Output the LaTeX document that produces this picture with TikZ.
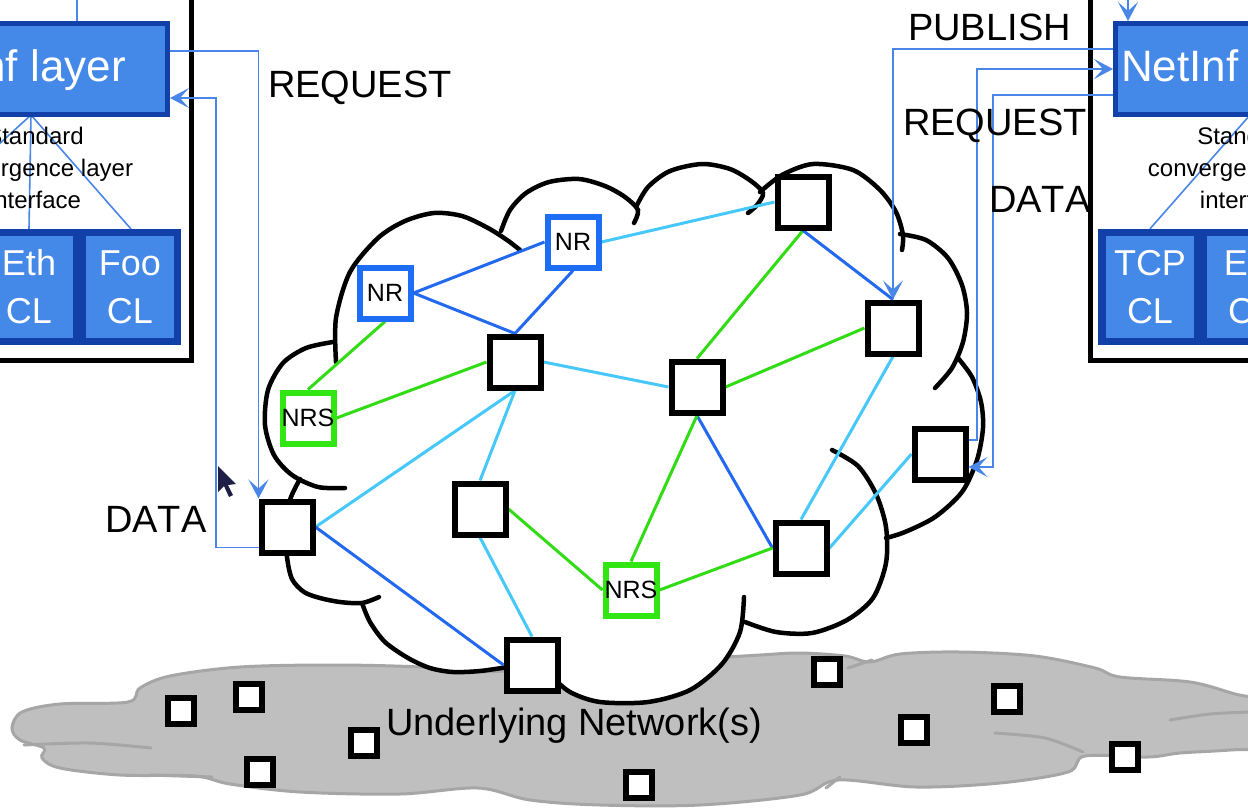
\documentclass[tikz,border=0pt]{standalone}
\usepackage{fontspec}
\setmainfont{Liberation Sans}[Kerning=Off]
\usetikzlibrary{arrows.meta,calc}
\definecolor{arrowblue}{RGB}{74,134,232}
\definecolor{edgeblue}{RGB}{35,105,240}
\definecolor{edgecyan}{RGB}{70,200,250}
\definecolor{edgegreen}{RGB}{50,220,20}
\definecolor{nrblue}{RGB}{30,110,245}
\definecolor{nrsgreen}{RGB}{50,230,20}
\definecolor{paneldark}{RGB}{16,64,168}
\definecolor{panellight}{RGB}{68,136,232}
\definecolor{cloudgray}{RGB}{191,191,191}
\definecolor{cloudedge}{RGB}{166,166,166}
\definecolor{cursorcol}{RGB}{30,30,70}
\pgfdeclarelayer{back}
\pgfdeclarelayer{edges}
\pgfsetlayers{back,edges,main}
\tikzset{
  netbox/.style={draw=black, line width=6pt, fill=white, minimum size=51pt, inner sep=0pt, font=\fontsize{25}{30}\selectfont},
  nrbox/.style={netbox, draw=nrblue},
  nrsbox/.style={netbox, draw=nrsgreen},
  tinybox/.style={draw=black, line width=5.5pt, fill=white, minimum size=26pt, inner sep=0pt},
  eblue/.style={draw=edgeblue, line width=3pt},
  ecyan/.style={draw=edgecyan, line width=3pt},
  egreen/.style={draw=edgegreen, line width=3pt},
  arr/.style={draw=arrowblue, line width=1.6pt, -{Stealth[length=19pt,width=20pt,inset=9pt]}},
  pline/.style={draw=arrowblue, line width=1.6pt},
  cloudline/.style={draw=black, line width=4.5pt, line cap=round},
  grayline/.style={draw=cloudedge, line width=3pt, line cap=round},
  nibox/.style={draw=paneldark, fill=panellight, line width=5pt, inner sep=0pt},
  clbar/.style={fill=paneldark, inner sep=0pt},
  clbox/.style={fill=panellight, minimum width=88pt, minimum height=102pt, inner sep=0pt, text=white, align=center, font=\fontsize{36}{48}\selectfont},
  nitext/.style={text=white, inner sep=0pt, font=\fontsize{44}{52}\selectfont},
  conv/.style={align=center, inner sep=0pt, font=\fontsize{24}{32}\selectfont},
  lbl/.style={inner sep=0pt, font=\fontsize{38}{44}\selectfont},
  panel/.style={draw=black, line width=5pt},
}
\begin{document}
\begin{tikzpicture}[x=1pt,y=-1pt]
\useasboundingbox (0,0) rectangle (1248,807);

% ---------- back layer: clouds ----------
\begin{pgfonlayer}{back}
\fill[white] (0,0) rectangle (1248,807);
\path[fill=cloudgray, draw=cloudedge, line width=3pt] plot[smooth cycle, tension=0.55] coordinates {
(12,728) (22,712) (60,704) (128,702) (140,688) (170,676) (240,667) (334,665) (420,667) (470,672)
(560,668) (680,660) (760,655) (800,653) (845,656) (870,662) (900,654) (960,652) (1035,656) (1095,668)
(1120,677) (1190,682) (1235,694) (1275,705) (1275,745) (1230,750) (1180,753) (1148,757)
(1085,756) (1068,772) (1000,783) (916,787) (838,780) (800,795) (700,805) (600,805) (530,800) (478,788)
(400,794) (300,792) (230,784) (195,776) (120,775) (60,768) (42,758) (44,748) (20,740)};
\draw[grayline] plot[smooth] coordinates {(24,745) (90,743) (151,748)};
\draw[grayline] plot[smooth] coordinates {(150,775) (180,776) (212,777)};
\draw[grayline] (848,668) -- (872,660);
\draw[grayline] (840,777) -- (826,788);
\draw[grayline] plot[smooth] coordinates {(995,733) (1045,738) (1083,752)};
\draw[grayline] plot[smooth] coordinates {(1170,720) (1210,714) (1250,712)};
% white interior of the NetInf cloud
\fill[white] plot[smooth cycle, tension=0.5] coordinates {
(362,603) (340,602) (320,598) (304,592) (292,579) (287,557) (286,530) (290,500) (300,479)
(274,455) (265,425) (268,390) (283,363) (306,348) (333,342)
(338,300) (353,265) (378,238) (405,221) (434,213) (462,216) (488,228)
(510,210) (526,193) (549,182) (579,179) (605,186) (625,197)
(648,187) (670,171) (702,164) (730,169) (751,181)
(782,175) (813,164) (853,170) (880,190) (896,212) (903,235)
(926,240) (948,258) (962,285) (967,313) (963,342)
(972,377) (981,402) (983,428) (977,460) (962,492) (935,517) (905,532) (886,538)
(886,563) (873,598) (847,620) (812,633) (776,632) (745,622)
(740,632) (722,664) (690,690) (648,702) (600,702) (570,692) (550,675) (532,690)
(508,667) (480,671) (453,672) (430,668) (408,658) (385,642) (370,622)};
% cloud bumps
\draw[cloudline] plot[smooth] coordinates {(345,488) (318,487) (292,475) (274,455) (265,425) (268,390) (283,363) (306,348) (333,342)};
\draw[cloudline] plot[smooth] coordinates {(336,362) (336,318) (350,272) (378,238) (405,221) (434,213) (462,216) (488,228) (507,240) (520,250)};
\draw[cloudline] plot[smooth] coordinates {(501,231) (510,210) (526,193) (549,182) (579,179) (605,186) (625,197) (638,210) (634,223)};
\draw[cloudline] plot[smooth] coordinates {(636,207) (648,187) (670,171) (702,164) (730,169) (751,181) (763,193) (757,205) (748,213)};
\draw[cloudline] plot[smooth] coordinates {(760,192) (782,175) (813,164) (853,170) (880,190) (896,212) (903,235) (902,250)};
\draw[cloudline] plot[smooth] coordinates {(900,234) (926,240) (948,258) (962,285) (967,313) (963,342) (952,368) (935,388)};
\draw[cloudline] plot[smooth] coordinates {(958,358) (972,377) (981,402) (983,428) (977,460) (962,492) (935,517) (905,532) (886,538)};
\draw[cloudline] plot[smooth] coordinates {(832,450) (858,466) (876,494) (886,527) (886,563) (873,598) (847,620) (812,633) (776,632) (745,622)};
\draw[cloudline] plot[smooth] coordinates {(744,597) (740,632) (722,664) (690,690) (648,702) (600,702) (570,692) (550,675)};
\draw[cloudline] plot[smooth] coordinates {(362,603) (370,622) (385,642) (408,658) (430,668) (453,672) (480,671) (508,667)};
\draw[cloudline] plot[smooth] coordinates {(300,479) (290,500) (286,530) (287,557) (292,579) (304,592) (320,598) (340,602) (362,603) (379,597)};
\end{pgfonlayer}

% ---------- nodes of the network ----------
\node[netbox] (N1) at (803,202) {};
\node[netbox] (N2) at (893,328) {};
\node[netbox] (N3) at (697,387) {};
\node[netbox] (N4) at (515,362) {};
\node[netbox] (N5) at (940,454) {};
\node[netbox] (N6) at (480,509) {};
\node[netbox] (N7) at (801,548) {};
\node[netbox] (N8) at (287,527) {};
\node[netbox] (N9) at (532,665) {};
\node[nrbox] (NR1) at (385,293) {\makebox[0pt]{NR}};
\node[nrbox] (NR2) at (573,242) {\makebox[0pt]{NR}};
\node[nrsbox] (NRS1) at (308,418) {\makebox[0pt]{NRS}};
\node[nrsbox] (NRS2) at (631,590) {\makebox[0pt]{NRS}};

% small nodes of the underlying network
\node[tinybox] (S1) at (181,711) {};
\node[tinybox] (S2) at (249,697) {};
\node[tinybox] (S3) at (364,743) {};
\node[tinybox] (S4) at (260,772) {};
\node[tinybox] (S5) at (639,785) {};
\node[tinybox] (S6) at (827,672) {};
\node[tinybox] (S7) at (914,730) {};
\node[tinybox] (S8) at (1007,699) {};
\node[tinybox] (S9) at (1125,757) {};
\node[lbl, anchor=base west] (UN) at (386,735) {Underlying Network(s)};

% ---------- connectors ----------
\begin{pgfonlayer}{edges}
\draw[eblue] (NR1.east) -- (NR2.west);
\draw[eblue] (NR1.east) -- (N4.north);
\draw[eblue] (NR2.south) -- (N4.north);
\draw[ecyan] (NR2.east) -- (N1.west);
\draw[egreen] (NR1.south) -- (NRS1.north);
\draw[egreen] (NRS1.east) -- (N4.west);
\draw[ecyan] (N4.east) -- (N3.west);
\draw[egreen] (N1.south) -- (N3.north);
\draw[eblue] (N1.south) -- (N2.north);
\draw[egreen] (N3.east) -- (N2.west);
\draw[ecyan] (N2.south) -- (N7.north);
\draw[ecyan] (N5.west) -- (N7.east);
\draw[eblue] (N3.south) -- (N7.west);
\draw[egreen] (N3.south) -- (NRS2.north);
\draw[egreen] (N6.east) -- (NRS2.west);
\draw[egreen] (NRS2.east) -- (N7.west);
\draw[ecyan] (N4.south) -- (N6.north);
\draw[ecyan] (N4.south) -- (N8.east);
\draw[eblue] (N8.east) -- (N9.west);
\draw[ecyan] (N6.south) -- (N9.north);
\end{pgfonlayer}

% ---------- left panel ----------
\draw[panel] (191,-5) -- (191,360) -- (-5,360);
\node[nibox, minimum width=265pt, minimum height=91pt] (LNI) at (35,69) {};
\node[nitext, anchor=base east] (LNIT) at (126,81) {NetInf layer};
\node[clbar, minimum width=281pt, minimum height=116pt] (LCL) at (40.5,287) {};
\node[clbox] (LETH) at (29,287) {Eth\\CL};
\node[clbox] (LFOO) at (130,287) {Foo\\CL};
\coordinate (LAPEX) at (31,115);
\begin{pgfonlayer}{edges}
\draw[pline] (LAPEX) -- (-94,229);
\draw[pline] (LAPEX) -- (LETH.north |- LCL.north);
\draw[pline] (LAPEX) -- (131,229);
\end{pgfonlayer}
\node[conv] (LCONV) at (35,168) {Standard\\convergence layer\\interface};
\draw[pline] (77,-5) -- (LNI.north -| 77,0);

% ---------- right panel ----------
\draw[panel] (1090,-5) -- (1090,360) -- (1255,360);
\node[nibox, minimum width=282pt, minimum height=91pt] (RNI) at (1256.5,69) {};
\node[nitext, anchor=base west] (RNIT) at (1121,81) {NetInf layer};
\node[clbar, minimum width=302pt, minimum height=116pt] (RCL) at (1249,287) {};
\node[clbox] (RTCP) at (1150,287) {TCP\\CL};
\node[clbox] (RETH) at (1251,287) {Eth\\CL};
\begin{pgfonlayer}{edges}
\draw[pline] (RTCP.north |- RCL.north) -- (1250,115);
\end{pgfonlayer}
\node[conv] (RCONV) at (1246,168) {Standard\\convergence layer\\interface};
\draw[arr] (1128,-5) -- (RNI.north -| 1128,0);

% ---------- request / data / publish flows ----------
\draw[arr] (LNI.east |- 0,51) -| (N8.north west);
\draw[arr] ($(N8.south west)+(0,-8)$) -| (216,98) -- (LNI.east |- 0,98);
\draw[arr] (RNI.west |- 0,49) -| (N2.north);
\draw[arr] ($(N5.east)+(0,-14)$) -| (977,69) -- (RNI.west |- 0,69);
\draw[arr] (RNI.west |- 0,95) -| (993,467) -- (N5.east |- 0,467);

\node[lbl, anchor=base west] (LREQ) at (268,97) {REQUEST};
\node[lbl, anchor=base west] (LDATA) at (105,532) {DATA};
\node[lbl, anchor=base west] (RPUB) at (908,40) {PUBLISH};
\node[lbl, anchor=base west] (RREQ) at (903,135) {REQUEST};
\node[lbl, anchor=base west] (RDATA) at (989,212) {DATA};

% mouse pointer
\fill[cursorcol] (218,466) -- (218,492) -- (224,486) -- (229,497) -- (233,495) -- (228,485) -- (236,484) -- cycle;
\end{tikzpicture}
\end{document}
